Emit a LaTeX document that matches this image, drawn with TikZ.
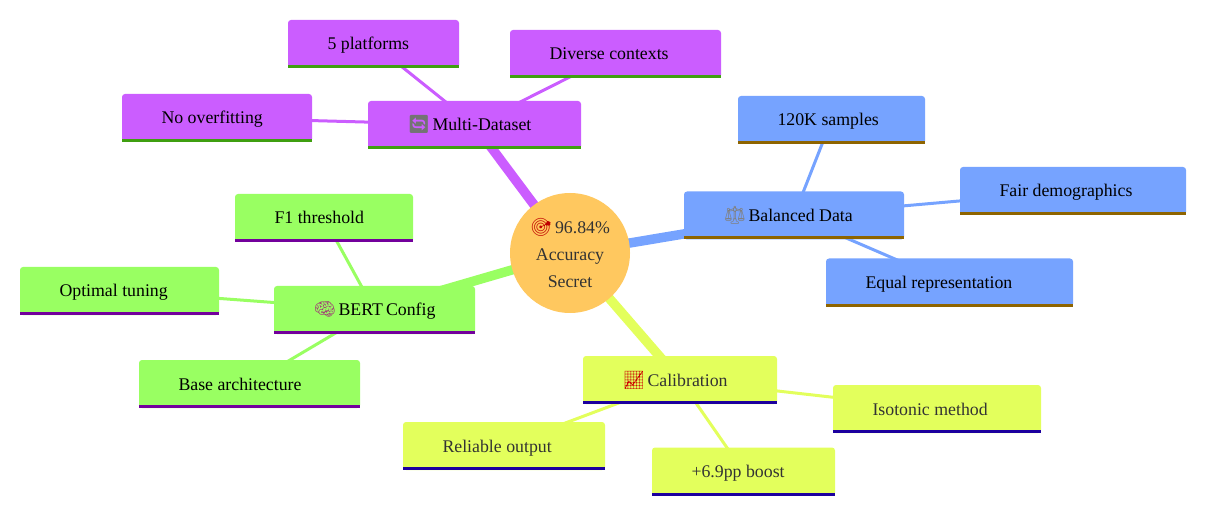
\documentclass[tikz,border=0pt]{standalone}
\usepackage{fontspec}
\setmainfont{Liberation Serif}
\newfontfamily\emojifont{Noto Emoji}
\usetikzlibrary{backgrounds}
\definecolor{multicol}{HTML}{CB5DFF}
\definecolor{multiline}{HTML}{3F9F10}
\definecolor{balancedcol}{HTML}{76A3FF}
\definecolor{balancedline}{HTML}{8E6400}
\definecolor{bertcol}{HTML}{99FF62}
\definecolor{bertline}{HTML}{73009C}
\definecolor{calibcol}{HTML}{E3FF5C}
\definecolor{calibline}{HTML}{1C009E}
\definecolor{rootcol}{HTML}{FFC85F}
\definecolor{darktext}{HTML}{333333}
\newcommand{\emo}[2]{\makebox[25pt][l]{\emojifont\textcolor{#1}{#2}}}
\tikzset{
    mmnode/.style 2 args={rectangle, rounded corners=3pt, fill=#1, outer sep=0pt,
        inner xsep=39.5pt, inner ysep=0pt, align=flush left, minimum height=48pt,
        text height=14pt, text depth=2pt,
        font=\fontsize{17.8}{22}\selectfont,
        append after command={([yshift=1.5pt]\tikzlastnode.south west)
            edge[draw=#2, line width=3pt] ([yshift=1.5pt]\tikzlastnode.south east)}},
    multi/.style={mmnode={multicol}{multiline}},
    balanced/.style={mmnode={balancedcol}{balancedline}},
    bert/.style={mmnode={bertcol}{bertline}},
    calib/.style={mmnode={calibcol}{calibline}, text=darktext},
    trunk/.style={line width=9.5pt},
    twig/.style={line width=3pt}
}
\begin{document}
\begin{tikzpicture}[x=1pt, y=-1pt]
    \useasboundingbox (0,0) rectangle (1214,518);
    \node[circle, fill=rootcol, minimum size=120pt, inner sep=0pt, align=center, text=darktext,
        font=\fontsize{17.8}{27}\selectfont] (root) at (570,253)
        {\emo{red!75!black}{🎯}96.84\%\\Accuracy\\Secret};
    % branches
    \node[multi, text width=134pt] (multids) at (474.5,125) {\emo{black!55}{🔄}Multi-Dataset};
    \node[balanced, text width=141pt] (baldata) at (794,215.5) {\emo{black!50}{⚖}Balanced Data};
    \node[bert, text width=122pt] (bertcfg) at (374.5,310) {\emo{magenta!60!black}{🧠}BERT~Config};
    \node[calib, text width=115pt] (calibr) at (680,380) {\emo{red!80!black}{📈}Calibration};
    % leaves
    \node[multi, text width=92pt] (platforms) at (373.5,44) {5 platforms};
    \node[multi, text width=132pt] (contexts) at (615.5,54) {Diverse contexts};
    \node[multi, text width=111pt] (overfit) at (217,118) {No overfitting};
    \node[balanced, text width=108pt] (samples) at (831.5,120) {120K samples};
    \node[balanced, text width=147pt] (demog) at (1073,191) {Fair demographics};
    \node[balanced, text width=168pt] (equalrep) at (949.5,282.5) {Equal representation};
    \node[bert, text width=99pt] (fthresh) at (324,218) {F1 threshold};
    \node[bert, text width=120pt] (tuning) at (119.5,291) {Optimal tuning};
    \node[bert, text width=142pt] (basearch) at (249.5,384) {Base architecture};
    \node[calib, text width=123pt] (reliable) at (504,446) {Reliable output};
    \node[calib, text width=104pt] (boost) at (743.5,471.5) {+6.9pp boost};
    \node[calib, text width=129pt] (isotonic) at (937,409) {Isotonic method};
    % connectors
    \begin{pgfonlayer}{background}
        \draw[trunk, multicol] (root.center) -- (multids.center);
        \draw[trunk, balancedcol] (root.center) -- (baldata.center);
        \draw[trunk, bertcol] (root.center) -- (bertcfg.center);
        \draw[trunk, calibcol] (root.center) -- (calibr.center);
        \draw[twig, multicol] (multids.center) -- (platforms.center);
        \draw[twig, multicol] (multids.center) -- (contexts.center);
        \draw[twig, multicol] (multids.center) -- (overfit.center);
        \draw[twig, balancedcol] (baldata.center) -- (samples.center);
        \draw[twig, balancedcol] (baldata.center) -- (demog.center);
        \draw[twig, balancedcol] (baldata.center) -- (equalrep.center);
        \draw[twig, bertcol] (bertcfg.center) -- (fthresh.center);
        \draw[twig, bertcol] (bertcfg.center) -- (tuning.center);
        \draw[twig, bertcol] (bertcfg.center) -- (basearch.center);
        \draw[twig, calibcol] (calibr.center) -- (reliable.center);
        \draw[twig, calibcol] (calibr.center) -- (boost.center);
        \draw[twig, calibcol] (calibr.center) -- (isotonic.center);
    \end{pgfonlayer}
\end{tikzpicture}
\end{document}
